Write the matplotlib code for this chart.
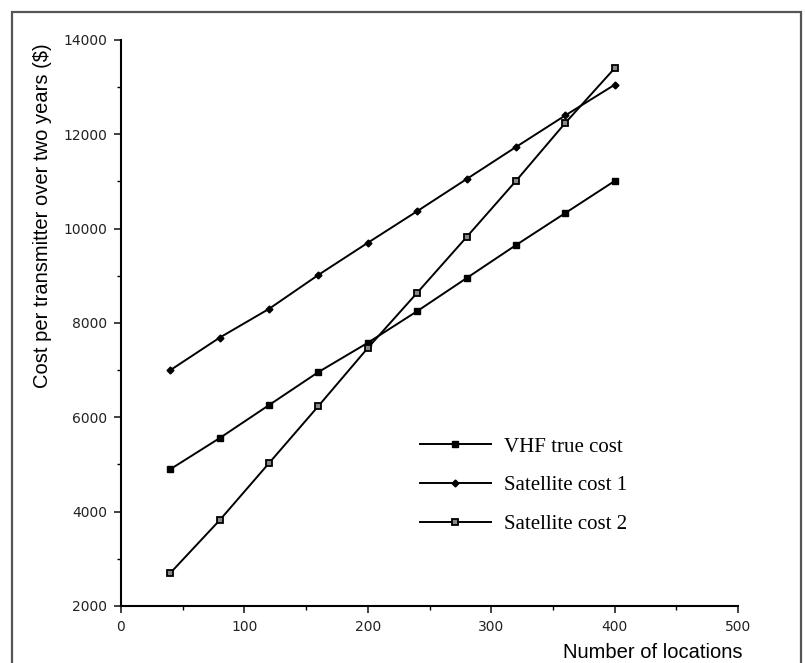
import matplotlib
matplotlib.use('Agg')
import matplotlib.pyplot as plt
from matplotlib.patches import Rectangle
from matplotlib.ticker import MultipleLocator

# data
locations = [40, 80, 120, 160, 200, 240, 280, 320, 360, 400]
vhf_true = [4900, 5560, 6260, 6960, 7580, 8250, 8950, 9650, 10330, 11010]
sat_cost1 = [7000, 7690, 8300, 9020, 9700, 10370, 11050, 11730, 12400, 13050]
sat_cost2 = [2700, 3820, 5030, 6240, 7470, 8640, 9820, 11010, 12240, 13400]

x_ticks = [0, 100, 200, 300, 400, 500]
y_ticks = [2000, 4000, 6000, 8000, 10000, 12000, 14000]

fig = plt.figure(figsize=(8.05, 6.63), dpi=100)
ax = fig.add_axes([0.1503, 0.086, 0.7665, 0.8537])

ax.plot(locations, vhf_true, color='black', lw=1.4, marker='s', ms=5,
        mfc='black', mec='black', label='VHF true cost')
ax.plot(locations, sat_cost1, color='black', lw=1.4, marker='D', ms=3.5,
        mfc='black', mec='black', label='Satellite cost 1')
ax.plot(locations, sat_cost2, color='black', lw=1.4, marker='s', ms=5,
        mfc='#888888', mec='black', mew=1.3, label='Satellite cost 2')

ax.set_xlim(0, 500)
ax.set_ylim(2000, 14000)
ax.set_xticks(x_ticks)
ax.set_yticks(y_ticks)
ax.xaxis.set_minor_locator(MultipleLocator(50))
ax.yaxis.set_minor_locator(MultipleLocator(1000))
ax.tick_params(which='major', direction='out', length=5, width=1.2,
               labelsize=10, colors='#222222', pad=5)
ax.tick_params(which='minor', direction='out', length=3, width=1.0)

for s in ['top', 'right']:
    ax.spines[s].set_visible(False)
for s in ['left', 'bottom']:
    ax.spines[s].set_linewidth(1.5)

fig.text(742/805, 1 - 652/663, 'Number of locations', ha='right', va='center',
         fontsize=14.5, family='Liberation Sans')
fig.text(43/805, 1 - 216/663, 'Cost per transmitter over two years ($)',
         ha='center', va='center', rotation=90, fontsize=14.5,
         family='Liberation Sans')

ax.legend(loc='upper left', bbox_to_anchor=(420/805, 1 - 437/663),
          bbox_transform=fig.transFigure, frameon=False, borderpad=0,
          borderaxespad=0, handlelength=3.4, handletextpad=0.65,
          labelspacing=0.92, prop={'family': 'Liberation Serif', 'size': 15})

# scanned page frame
fig.patches.append(Rectangle((12/805, -0.05), (801 - 12)/805, 1.05 - 12/663,
                             transform=fig.transFigure, fill=False,
                             edgecolor='#555555', lw=1.6))

fig.savefig('out.png', dpi=100)
